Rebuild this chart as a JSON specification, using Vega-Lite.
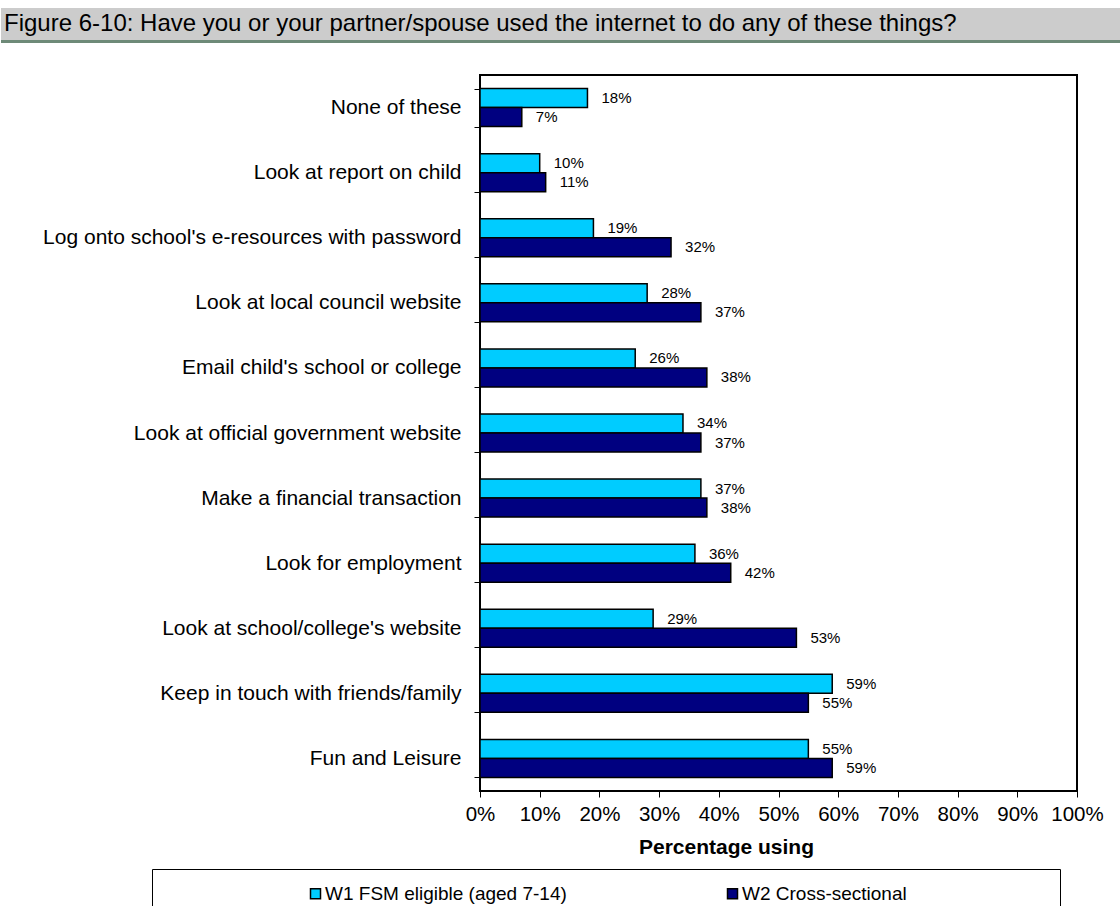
{
  "$schema": "https://vega.github.io/schema/vega-lite/v6.json",
  "padding": {"left": 0, "top": 8, "right": 0, "bottom": 0},
  "background": "white",
  "config": {"font": "Liberation Sans"},
  "spacing": 20,
  "vconcat": [
    {
      "width": 641,
      "height": 35,
      "view": {"stroke": null},
      "data": {"values": [{"t": "Figure 6-10: Have you or your partner/spouse used the internet to do any of these things?", "start": 0, "end": 1}]},
      "encoding": {
        "x": {"field": "start", "type": "quantitative", "scale": {"domain": [0.42768, 1], "nice": false, "zero": false}, "axis": null}
      },
      "layer": [
        {"mark": {"type": "rect", "color": "#CCCCCC"}, "encoding": {"x2": {"field": "end"}}},
        {
          "mark": {"type": "rect", "color": "#6E8A78"},
          "encoding": {
            "x2": {"field": "end"},
            "y": {"datum": 0, "type": "quantitative", "scale": {"domain": [0, 1], "nice": false}, "axis": null},
            "y2": {"datum": 0.0857}
          }
        },
        {
          "mark": {"type": "text", "align": "left", "baseline": "middle", "fontSize": 24, "color": "black", "dx": 3, "dy": -2},
          "encoding": {"text": {"field": "t"}}
        }
      ]
    },
    {
      "width": 597,
      "height": 716,
      "view": {"stroke": "black", "strokeWidth": 2},
      "data": {"values": [
        {"cat": "None of these", "series": "W1 FSM eligible (aged 7-14)", "value": 0.18},
        {"cat": "None of these", "series": "W2 Cross-sectional", "value": 0.07},
        {"cat": "Look at report on child", "series": "W1 FSM eligible (aged 7-14)", "value": 0.10},
        {"cat": "Look at report on child", "series": "W2 Cross-sectional", "value": 0.11},
        {"cat": "Log onto school's e-resources with password", "series": "W1 FSM eligible (aged 7-14)", "value": 0.19},
        {"cat": "Log onto school's e-resources with password", "series": "W2 Cross-sectional", "value": 0.32},
        {"cat": "Look at local council website", "series": "W1 FSM eligible (aged 7-14)", "value": 0.28},
        {"cat": "Look at local council website", "series": "W2 Cross-sectional", "value": 0.37},
        {"cat": "Email child's school or college", "series": "W1 FSM eligible (aged 7-14)", "value": 0.26},
        {"cat": "Email child's school or college", "series": "W2 Cross-sectional", "value": 0.38},
        {"cat": "Look at official government website", "series": "W1 FSM eligible (aged 7-14)", "value": 0.34},
        {"cat": "Look at official government website", "series": "W2 Cross-sectional", "value": 0.37},
        {"cat": "Make a financial transaction", "series": "W1 FSM eligible (aged 7-14)", "value": 0.37},
        {"cat": "Make a financial transaction", "series": "W2 Cross-sectional", "value": 0.38},
        {"cat": "Look for employment", "series": "W1 FSM eligible (aged 7-14)", "value": 0.36},
        {"cat": "Look for employment", "series": "W2 Cross-sectional", "value": 0.42},
        {"cat": "Look at school/college's website", "series": "W1 FSM eligible (aged 7-14)", "value": 0.29},
        {"cat": "Look at school/college's website", "series": "W2 Cross-sectional", "value": 0.53},
        {"cat": "Keep in touch with friends/family", "series": "W1 FSM eligible (aged 7-14)", "value": 0.59},
        {"cat": "Keep in touch with friends/family", "series": "W2 Cross-sectional", "value": 0.55},
        {"cat": "Fun and Leisure", "series": "W1 FSM eligible (aged 7-14)", "value": 0.55},
        {"cat": "Fun and Leisure", "series": "W2 Cross-sectional", "value": 0.59}
      ]},
      "encoding": {
        "y": {
          "field": "cat", "type": "nominal", "sort": null,
          "scale": {"paddingInner": 0.416, "paddingOuter": 0.208},
          "axis": {
            "title": null, "domain": false, "tickBand": "extent", "tickSize": 6, "tickColor": "black", "tickWidth": 1,
            "labelFontSize": 21, "labelColor": "black", "labelPadding": 13, "labelLimit": 600, "minExtent": 476
          }
        },
        "yOffset": {"field": "series", "type": "nominal", "sort": null, "scale": {"paddingInner": 0, "paddingOuter": 0}},
        "x": {
          "field": "value", "type": "quantitative",
          "scale": {"domain": [0, 1], "nice": false},
          "axis": {
            "title": "Percentage using", "format": "%", "values": [0, 0.1, 0.2, 0.3, 0.4, 0.5, 0.6, 0.7, 0.8, 0.9, 1],
            "grid": false, "domain": false, "tickSize": 6, "tickColor": "black", "tickWidth": 1,
            "labelFontSize": 20.5, "labelColor": "black", "labelPadding": 7, "labelOverlap": false, "labelBound": false, "labelFlush": false,
            "titleFontSize": 21, "titleFontWeight": "bold", "titleColor": "black", "titlePadding": 12, "titleX": 246
          }
        }
      },
      "layer": [
        {
          "mark": {"type": "bar", "stroke": "black", "strokeWidth": 1.5},
          "encoding": {
            "color": {
              "field": "series", "type": "nominal",
              "scale": {"domain": ["W1 FSM eligible (aged 7-14)", "W2 Cross-sectional"], "range": ["#00CCFF", "#000080"]},
              "legend": {
                "title": " ", "titleOrient": "right", "titlePadding": 138, "orient": "none", "legendX": -328, "legendY": 861,
                "direction": "horizontal", "columns": 2, "strokeColor": "black", "padding": 15,
                "symbolType": "square", "symbolSize": 100, "symbolStrokeColor": "black", "symbolStrokeWidth": 1.5,
                "symbolOffset": 139, "columnPadding": 17, "labelOffset": 0,
                "labelFontSize": 19, "labelColor": "black", "labelLimit": 400
              }
            }
          }
        },
        {
          "mark": {"type": "text", "align": "left", "baseline": "middle", "dx": 14, "fontSize": 15, "color": "black"},
          "encoding": {"text": {"field": "value", "type": "quantitative", "format": ".0%"}}
        }
      ]
    }
  ]
}
